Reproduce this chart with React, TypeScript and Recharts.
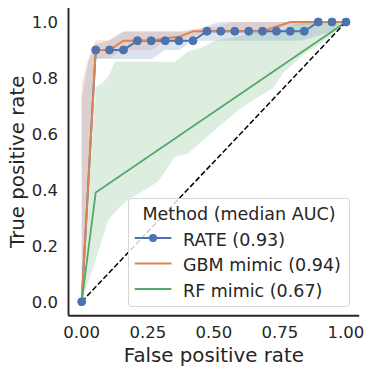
import React from 'react';
import { ComposedChart, Line, Area, XAxis, YAxis, Legend, Label } from 'recharts';

// ---- data ----
const RATE_FPR = [0, 0.053, 0.105, 0.158, 0.211, 0.263, 0.316, 0.368, 0.421, 0.474, 0.526, 0.579, 0.632, 0.684, 0.737, 0.789, 0.842, 0.895, 0.947, 1.0];
const RATE_TPR = [0, 0.9, 0.9, 0.9, 0.933, 0.933, 0.933, 0.933, 0.933, 0.967, 0.967, 0.967, 0.967, 0.967, 0.967, 0.967, 0.967, 1.0, 1.0, 1.0];

const GBM_FPR = [0, 0.053, 0.105, 0.158, 0.263, 0.316, 0.368, 0.421, 0.684, 0.789, 1.0];
const GBM_TPR = [0, 0.9, 0.9, 0.933, 0.933, 0.942, 0.947, 0.967, 0.967, 1.0, 1.0];

const RF_FPR = [0, 0.053, 1.0];
const RF_TPR = [0, 0.39, 1.0];

const RATE_BAND_FPR = [0, 0.025, 0.053, 0.105, 0.158, 0.265, 0.315, 0.37, 0.42, 0.47, 0.52, 0.83, 0.95, 1.0];
const RATE_BAND_LO = [0, 0.41, 0.868, 0.868, 0.868, 0.868, 0.9, 0.9, 0.933, 0.933, 0.933, 0.933, 0.967, 1.0];
const RATE_BAND_HI = [0.73, 0.86, 0.92, 0.935, 0.966, 0.966, 0.966, 0.966, 0.966, 0.985, 1.0, 1.0, 1.0, 1.0];

const GBM_BAND_FPR = [0, 0.025, 0.053, 0.105, 0.158, 0.265, 0.315, 0.37, 0.42, 0.52, 0.57, 0.68, 0.79, 1.0];
const GBM_BAND_LO = [0, 0.43, 0.87, 0.87, 0.9, 0.9, 0.933, 0.933, 0.95, 0.967, 0.967, 0.967, 0.985, 1.0];
const GBM_BAND_HI = [0.78, 0.87, 0.935, 0.935, 0.966, 0.966, 0.966, 0.966, 0.975, 0.985, 1.0, 1.0, 1.0, 1.0];

const RF_BAND_FPR = [0, 0.053, 0.076, 0.1, 0.126, 0.17, 0.289, 0.353, 0.402, 0.45, 0.504, 0.6, 0.648, 0.724, 0.762, 0.837, 0.951, 1.0];
const RF_BAND_LO = [0, 0.15, 0.22, 0.29, 0.32, 0.36, 0.429, 0.518, 0.53, 0.57, 0.614, 0.69, 0.72, 0.764, 0.818, 0.882, 0.953, 1.0];
const RF_BAND_HI = [0, 0.768, 0.78, 0.804, 0.858, 0.858, 0.858, 0.858, 0.894, 0.907, 0.933, 0.95, 0.96, 0.967, 0.975, 1.0, 1.0, 1.0];

const DIAG_FPR = [0, 1];
const DIAG_TPR = [0, 1];

const SERIES_NAMES = ['RATE (0.93)', 'GBM mimic (0.94)', 'RF mimic (0.67)'];
const SERIES_COLORS = ['#4c72b0', '#dd8452', '#55a868'];
const LEGEND_TITLE = 'Method (median AUC)';

const X_TICKS = [0, 0.25, 0.5, 0.75, 1.0];
const Y_TICKS = [0, 0.2, 0.4, 0.6, 0.8, 1.0];
const X_LABEL = 'False positive rate';
const Y_LABEL = 'True positive rate';

// ---- helpers ----
const pts = (xs: number[], ys: number[]) => xs.map((x, i) => ({ x, y: ys[i] }));
const band = (xs: number[], lo: number[], hi: number[]) => xs.map((x, i) => ({ x, lo: lo[i], hi: hi[i] }));

const rateData = pts(RATE_FPR, RATE_TPR);
const gbmData = pts(GBM_FPR, GBM_TPR);
const rfData = pts(RF_FPR, RF_TPR);
const diagData = pts(DIAG_FPR, DIAG_TPR);
const rateBand = band(RATE_BAND_FPR, RATE_BAND_LO, RATE_BAND_HI);
const gbmBand = band(GBM_BAND_FPR, GBM_BAND_LO, GBM_BAND_HI);
const rfBand = band(RF_BAND_FPR, RF_BAND_LO, RF_BAND_HI);

const FONT = "'DejaVu Sans', sans-serif";
const TEXT = '#262626';

const LegendBox = () => (
  <svg width={222} height={109} style={{ display: 'block', overflow: 'visible' }}>
    <rect x={0.5} y={0.5} width={221} height={108} rx={3} ry={3} fill="rgba(255,255,255,0.8)" stroke="#d6d6d6" strokeWidth={1} />
    <text x={111} y={22.4} textAnchor="middle" fontFamily={FONT} fontSize={17.5} fill={TEXT}>{LEGEND_TITLE}</text>
    {SERIES_NAMES.map((name, i) => {
      const cy = 40 + i * 25.5;
      return (
        <g key={name}>
          <line x1={6.7} x2={43.4} y1={cy} y2={cy} stroke={SERIES_COLORS[i]} strokeWidth={2} />
          {i === 0 && <circle cx={25} cy={cy} r={4} fill={SERIES_COLORS[i]} />}
          <text x={55} y={cy + 7.7} fontFamily={FONT} fontSize={17.5} fill={TEXT}>{name}</text>
        </g>
      );
    })}
  </svg>
);

export default function App() {
  return (
    <div style={{ position: 'absolute', left: 0, top: 0, width: 374, height: 374, background: '#fff' }}>
      <ComposedChart width={374} height={374} margin={{ top: 8, right: 14.8, bottom: 0, left: 0 }}>
        <XAxis
          type="number"
          dataKey="x"
          domain={[-0.05, 1.05]}
          allowDataOverflow
          ticks={X_TICKS}
          tickFormatter={(v: number) => v.toFixed(2)}
          height={58.3}
          axisLine={{ stroke: TEXT, strokeWidth: 1.9 }}
          tickLine={false}
          tickSize={6}
          tickMargin={5}
          tick={{ fontSize: 16.5, fill: TEXT, fontFamily: FONT }}
        >
          <Label
            content={(props: any) => {
              const vb = props.viewBox || {};
              return (
                <text x={vb.x + vb.width / 2} y={361.7} textAnchor="middle" fontFamily={FONT} fontSize={19.8} fill={TEXT}>
                  {X_LABEL}
                </text>
              );
            }}
          />
        </XAxis>
        <YAxis
          type="number"
          domain={[-0.05, 1.05]}
          allowDataOverflow
          ticks={Y_TICKS}
          tickFormatter={(v: number) => v.toFixed(1)}
          width={68.5}
          axisLine={{ stroke: TEXT, strokeWidth: 1.9 }}
          tickLine={false}
          tickSize={6}
          tickMargin={4.5}
          tick={{ fontSize: 16.5, fill: TEXT, fontFamily: FONT }}
        >
          <Label
            content={(props: any) => {
              const vb = props.viewBox || {};
              const cy = vb.y + vb.height / 2;
              return (
                <text transform={`translate(23.5,${cy}) rotate(-90)`} textAnchor="middle" fontFamily={FONT} fontSize={19.8} fill={TEXT}>
                  {Y_LABEL}
                </text>
              );
            }}
          />
        </YAxis>
        <Legend
          layout="horizontal"
          verticalAlign="middle"
          align="center"
          content={() => <LegendBox />}
          wrapperStyle={{ position: 'absolute', left: 128.3, top: 198.3, width: 222, height: 109 }}
        />
        <Area data={rateBand} type="linear" dataKey={(d: any) => [d.lo, d.hi]} fill={SERIES_COLORS[0]} fillOpacity={0.2} stroke="none" isAnimationActive={false} legendType="none" />
        <Area data={gbmBand} type="linear" dataKey={(d: any) => [d.lo, d.hi]} fill={SERIES_COLORS[1]} fillOpacity={0.2} stroke="none" isAnimationActive={false} legendType="none" />
        <Area data={rfBand} type="linear" dataKey={(d: any) => [d.lo, d.hi]} fill={SERIES_COLORS[2]} fillOpacity={0.2} stroke="none" isAnimationActive={false} legendType="none" />
        <Line data={rateData} type="linear" dataKey="y" stroke={SERIES_COLORS[0]} strokeWidth={2} dot={{ r: 4, fill: SERIES_COLORS[0], stroke: SERIES_COLORS[0], strokeWidth: 1 }} activeDot={false} isAnimationActive={false} />
        <Line data={gbmData} type="linear" dataKey="y" stroke={SERIES_COLORS[1]} strokeWidth={2} dot={false} activeDot={false} isAnimationActive={false} />
        <Line data={rfData} type="linear" dataKey="y" stroke={SERIES_COLORS[2]} strokeWidth={1.8} dot={false} activeDot={false} isAnimationActive={false} />
        <Line data={diagData} type="linear" dataKey="y" stroke="#000" strokeWidth={1.5} strokeDasharray="5.5 2.4" dot={false} activeDot={false} isAnimationActive={false} />
      </ComposedChart>
    </div>
  );
}
